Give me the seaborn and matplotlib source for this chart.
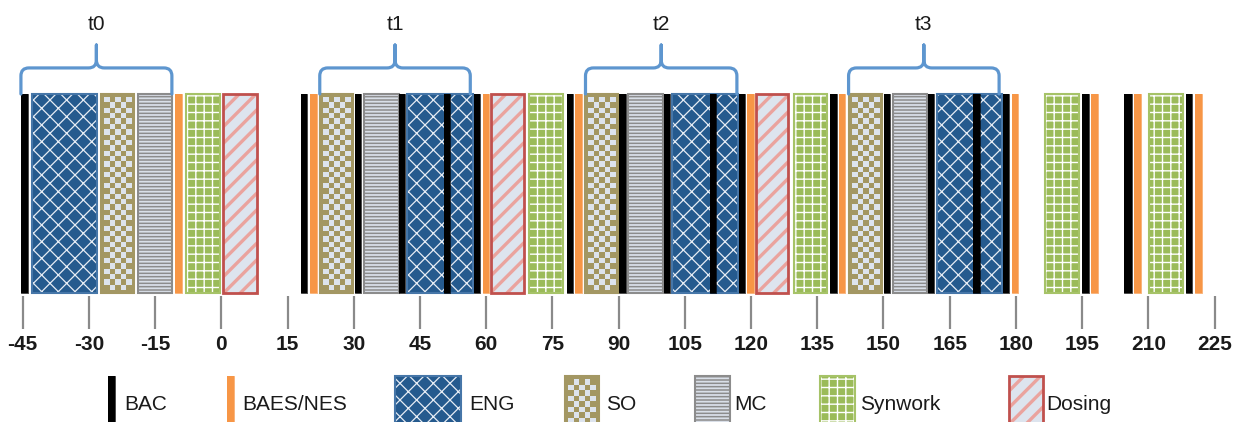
"""
Timeline of study sessions (BAC, BAES/NES, ENG, SO, MC, Synwork, Dosing).
"""

import numpy as np
import pandas as pd
import matplotlib
matplotlib.use('Agg')
import matplotlib.pyplot as plt
import seaborn as sns
from matplotlib.colors import ListedColormap
from matplotlib.path import Path
from matplotlib.patches import PathPatch

# --- data (minutes relative to dosing) ---
bac_start = [-45.4, 18.0, 30.2, 40.3, 50.4, 57.2, 78.2, 90.2, 100.3, 110.7,
             117.3, 138.0, 150.1, 160.2, 170.4, 177.1, 195.0, 204.6, 218.5]
bac_end = [-43.8, 19.5, 31.7, 41.7, 51.8, 58.6, 79.7, 91.7, 101.6, 112.0,
           118.6, 139.4, 151.5, 161.5, 171.9, 178.5, 196.5, 206.3, 220.0]
bes_start = [-10.5, 20.1, 59.2, 80.1, 119.2, 139.9, 179.1, 197.0, 206.8, 220.5]
bes_end = [-8.9, 21.6, 60.7, 81.6, 120.7, 141.4, 180.5, 198.6, 208.3, 222.1]
eng_start = [-43.0, 42.0, 102.0, 162.1]
eng_end = [-28.1, 57.1, 117.0, 176.9]
so_start = [-27.2, 22.3, 82.3, 142.1]
so_end = [-19.7, 29.9, 89.8, 149.6]
mc_start = [-18.9, 32.3, 92.1, 152.1]
mc_end = [-11.2, 40.2, 100.0, 159.9]
syn_start = [-8.1, 69.7, 129.7, 186.5, 210.2]
syn_end = [-0.4, 77.4, 137.2, 194.4, 217.9]
dose_start = [0.3, 61.2, 121.2]
dose_end = [8.0, 68.6, 128.4]

brace_labels = ['t0', 't1', 't2', 't3']
brace_start = [-45.4, 22.3, 82.5, 142.1]
brace_end = [-11.2, 56.4, 116.8, 176.2]

xticks = list(range(-45, 226, 15))

# --- styles ---
STYLES = {
    'BAC':       dict(face='#000000', edge='#000000', lw=0.5),
    'BAES/NES':  dict(face='#F79646', edge='#F79646', lw=0.5),
    'ENG':       dict(face='#255A8E', edge='#4676A8', lw=1.5, hatch='xx', hcolor='#E6ECF4', hlw=0.9),
    'SO':        dict(face='#A39763', edge='#A39763', lw=1.5, checker='#DDE4EE'),
    'MC':        dict(face='#8C8C8C', edge='#8C8C8C', lw=1.5, hatch='-----', hcolor='#D9DFE8', hlw=1.3),
    'Synwork':   dict(face='#9BBB59', edge='#A6C368', lw=1.5, hatch='++', hcolor='#FFFFFF', hlw=1.0),
    'Dosing':    dict(face='#DDE4EE', edge='#C0504D', lw=2.0, hatch='//', hcolor='#EAA39E', hlw=2.4),
}

segments = pd.concat([
    pd.DataFrame({'start': s, 'end': e, 'kind': k}) for k, s, e in [
        ('ENG', eng_start, eng_end), ('SO', so_start, so_end),
        ('MC', mc_start, mc_end), ('Synwork', syn_start, syn_end),
        ('Dosing', dose_start, dose_end), ('BAES/NES', bes_start, bes_end),
        ('BAC', bac_start, bac_end)]
], ignore_index=True)


def draw_block(ax, x0, x1, y0, y1, kind, z):
    st = STYLES[kind]
    ax.bar(x0, y1 - y0, x1 - x0, bottom=y0, align='edge', color=st['face'],
           linewidth=0, zorder=z)
    if 'checker' in st:
        p0 = ax.transData.transform((x0, y0))
        p1 = ax.transData.transform((x1, y1))
        ins = 3.0
        ncol = max(1, int(round((p1[0] - p0[0] - 2 * ins) / 5.4)))
        nrow = max(1, int(round((p1[1] - p0[1] - 2 * ins) / 5.4)))
        grid = np.add.outer(np.arange(nrow), np.arange(ncol)) % 2
        inv = ax.transData.inverted()
        a = inv.transform((p0[0] + ins, p0[1] + ins))
        b = inv.transform((p1[0] - ins, p1[1] - ins))
        ax.imshow(grid, extent=(a[0], b[0], a[1], b[1]), origin='lower',
                  cmap=ListedColormap([st['face'], st['checker']]),
                  interpolation='nearest', aspect='auto', zorder=z + 0.1)
    if 'hatch' in st:
        bars = ax.bar(x0, y1 - y0, x1 - x0, bottom=y0, align='edge', fill=False,
                      edgecolor=st['hcolor'], hatch=st['hatch'], linewidth=0,
                      zorder=z + 0.1)
        for b in bars:
            if hasattr(b, 'set_hatch_linewidth'):
                b.set_hatch_linewidth(st['hlw'])
    ax.bar(x0, y1 - y0, x1 - x0, bottom=y0, align='edge', fill=False,
           edgecolor=st['edge'], linewidth=st['lw'], zorder=z + 0.2)


sns.set_theme(style='white')
plt.rcParams['font.family'] = ['Liberation Sans', 'DejaVu Sans']
plt.rcParams['hatch.linewidth'] = 1.3

fig = plt.figure(figsize=(12.44, 4.22), dpi=100)
ax = fig.add_axes([0, 126 / 422, 1, 296 / 422])
XLIM = (-50.14, 231.68)
YLIM = (-0.0151, 1.4724)
ax.set_xlim(*XLIM)
ax.set_ylim(*YLIM)

for _, row in segments.iterrows():
    z = 4 if row['kind'] in ('BAC', 'BAES/NES') else 2
    draw_block(ax, row['start'], row['end'], 0, 1, row['kind'], z)

# braces above each test block
rx, ry = 1.8, 0.04
yh, yp = 1.131, 1.246
for lab, x0, x1 in zip(brace_labels, brace_start, brace_end):
    xm = (x0 + x1) / 2
    verts = [(x0, 1.0), (x0, yh - ry), (x0, yh), (x0 + rx, yh),
             (xm - rx, yh), (xm, yh), (xm, yh + ry), (xm, yp),
             (xm, yh + ry), (xm, yh), (xm + rx, yh),
             (x1 - rx, yh), (x1, yh), (x1, yh - ry), (x1, 1.0)]
    codes = [Path.MOVETO, Path.LINETO, Path.CURVE3, Path.CURVE3,
             Path.LINETO, Path.CURVE3, Path.CURVE3, Path.LINETO,
             Path.LINETO, Path.CURVE3, Path.CURVE3,
             Path.LINETO, Path.CURVE3, Path.CURVE3, Path.LINETO]
    ax.add_patch(PathPatch(Path(verts, codes), fill=False, edgecolor='#5E96CF',
                           linewidth=2.3, capstyle='round', joinstyle='round',
                           zorder=5))
    ax.text(xm, 1.347, lab, ha='center', va='center', fontsize=15, color='#1a1a1a')

ax.set_xlim(*XLIM)
ax.set_ylim(*YLIM)
ax.set_xticks(xticks)
ax.set_xticklabels([str(t) for t in xticks], fontsize=15, fontweight='bold',
                   color='#1a1a1a')
ax.set_yticks([])
ax.tick_params(axis='x', length=24, width=1.6, color='#8A8A8A', pad=4,
               bottom=True, direction='out')
sns.despine(ax=ax, left=True, bottom=True)
ax.grid(False)
ax.set_facecolor('none')

# --- legend strip at the bottom ---
legend_names = ['BAC', 'BAES/NES', 'ENG', 'SO', 'MC', 'Synwork', 'Dosing']
legend_x0 = [108, 227, 395, 565, 695, 820, 1009]
legend_x1 = [114.5, 233.5, 461, 599, 730, 855, 1043]
legend_tx = [124, 242, 469, 606, 734, 860, 1046]

lax = fig.add_axes([0, 0, 1, 60 / 422])
lax.set_xlim(0, 1244)
lax.set_ylim(0, 60)
lax.axis('off')
for name, a, b, tx in zip(legend_names, legend_x0, legend_x1, legend_tx):
    draw_block(lax, a, b, -10, 46, name, 2)
    lax.text(tx, 18, name, ha='left', va='center', fontsize=15, color='#1a1a1a')
lax.set_xlim(0, 1244)
lax.set_ylim(0, 60)

fig.savefig('out.png', dpi=100, facecolor='white')
